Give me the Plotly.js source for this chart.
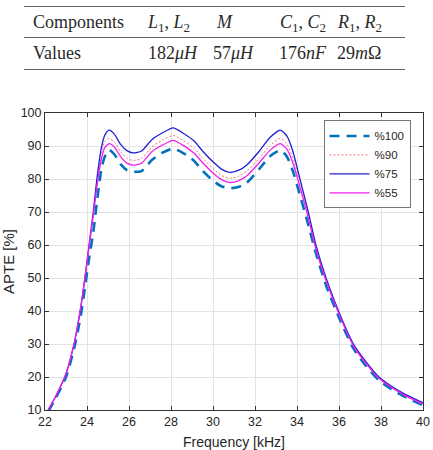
<!DOCTYPE html>
<html>
<head>
<meta charset="utf-8">
<script src="https://cdn.plot.ly/plotly-3.0.1.min.js"></script>
<style>
  html, body { margin: 0; padding: 0; background: #fff; }
  #wrap { position: relative; width: 433px; height: 450px; overflow: hidden; }
  #plot { position: absolute; left: 0; top: 0; width: 433px; height: 450px; }
  #table { position: absolute; left: 0; top: 0; width: 433px; height: 75px; z-index: 5;
           font-family: "Liberation Serif", "DejaVu Serif", serif; font-size: 18px; color: #2a2a2a; }
  .rule { position: absolute; left: 24px; width: 381px; height: 0; border-top: 1px solid #666; }
  .cell { position: absolute; line-height: 18px; white-space: nowrap; }
  .cell sub { font-size: 72%; vertical-align: -0.3em; line-height: 0; }
</style>
</head>
<body>
<div id="wrap">
  <div id="plot"></div>
  <div id="table"></div>
</div>
<script>
// ---- table text ----
var tableHeader = ['Components', '<i>L</i><sub>1</sub>, <i>L</i><sub>2</sub>', '<i>M</i>',
                   '<i>C</i><sub>1</sub>, <i>C</i><sub>2</sub>', '<i>R</i><sub>1</sub>, <i>R</i><sub>2</sub>'];
var tableValues = ['Values', '182<i>μH</i>', '57<i>μH</i>', '176<i>nF</i>', '29<i>m</i>Ω'];

// ---- chart data ----
var freq = [22.15, 22.5, 23, 23.4, 23.7, 23.9, 24.1, 24.3, 24.5, 24.7, 24.85, 25.05, 25.3, 25.6, 25.9,
            26.2, 26.6, 27.1, 27.6, 28.1, 28.6, 29.1, 29.5, 30, 30.4, 30.8, 31.2, 31.6, 32.2, 32.7,
            33.2, 33.5, 33.8, 34.1, 34.5, 34.9, 35.4, 36, 36.7, 37.3, 37.9, 38.5, 39.2, 40];

var apte100 = [9.5, 13.5, 20, 29, 38.5, 47, 56, 64, 74.5, 83.5, 86.8, 88.8, 87.5, 84.5, 82.7,
               82.2, 82.4, 85.8, 88, 89.2, 87.8, 85.5, 82.5, 79.5, 77.8, 77.2, 77.6, 78.8, 83, 86.8,
               88.7, 87, 82.5, 76, 67, 57.5, 47.5, 38, 28.5, 23.2, 19, 16.3, 13.8, 11.4];

var apte90  = [10, 14, 21, 30.5, 41, 50, 60, 70, 80.5, 88, 91.5, 92.3, 91.2, 88.3, 86.2,
               85.6, 86.3, 89.8, 91.8, 93.2, 91.6, 89.3, 86.4, 83.2, 81.1, 80.2, 80.8, 82.3, 86.3, 90.1,
               92.3, 90.8, 86.5, 79.5, 70, 59.4, 49.3, 39.3, 29.5, 24.2, 19.8, 17, 14.4, 12];

var apte75  = [10, 14, 21, 30.5, 41, 50, 60, 70, 81.5, 90, 93.3, 94.8, 93.6, 90.5, 88.6,
               87.9, 88.5, 92, 94, 95.5, 93.8, 91.5, 88.5, 85.2, 83, 82, 82.6, 84.2, 88.4, 92.5,
               94.8, 93.2, 88.5, 81, 71, 60, 49.7, 39.6, 29.8, 24.5, 20, 17.2, 14.6, 12.2];

var apte55  = [10, 14, 21, 30.5, 41, 50, 59.5, 69, 79, 86.5, 89.5, 90.7, 89.7, 86.8, 84.8,
               84.2, 84.8, 88.3, 90.3, 91.7, 90.1, 87.8, 85, 81.8, 79.8, 78.9, 79.4, 80.9, 84.9, 88.6,
               90.7, 89.2, 85, 78.5, 69.2, 58.8, 48.9, 39, 29.3, 24, 19.6, 16.8, 14.2, 11.8];

var seriesNames = ['%100', '%90', '%75', '%55'];
var xTicks = [22, 24, 26, 28, 30, 32, 34, 36, 38, 40];
var yTicks = [10, 20, 30, 40, 50, 60, 70, 80, 90, 100];

// ---- build table ----
var tbl = document.getElementById('table');
function addRule(y) { var d = document.createElement('div'); d.className = 'rule'; d.style.top = y + 'px'; tbl.appendChild(d); }
function addRow(cells, top, xs) {
  cells.forEach(function (c, i) {
    var d = document.createElement('div'); d.className = 'cell';
    d.style.left = xs[i] + 'px'; d.style.top = top + 'px'; d.innerHTML = c; tbl.appendChild(d);
  });
}
addRule(6); addRule(37); addRule(69);
addRow(tableHeader, 12.5, [33, 148, 217, 280, 338]);
addRow(tableValues, 43.5, [33, 148, 213, 279, 337]);

// ---- chart ----
var traces = [
  { x: freq, y: apte100, name: seriesNames[0], mode: 'lines',
    line: { color: '#0072BD', width: 2.6, dash: '10px,7px' } },
  { x: freq, y: apte90, name: seriesNames[1], mode: 'lines',
    line: { color: '#F07070', width: 1, dash: '2px,2px' } },
  { x: freq, y: apte75, name: seriesNames[2], mode: 'lines',
    line: { color: '#2020D0', width: 1.3 } },
  { x: freq, y: apte55, name: seriesNames[3], mode: 'lines',
    line: { color: '#F020F0', width: 1.3 } }
];
traces.forEach(function (t) { t.line.shape = 'spline'; t.line.smoothing = 0.6; });

var axisCommon = {
  showline: true, linecolor: '#333', linewidth: 1, mirror: 'allticks',
  ticks: 'inside', ticklen: 4, tickcolor: '#333', tickwidth: 1,
  showgrid: true, gridcolor: '#e3e3e3', gridwidth: 1, zeroline: false,
  tickfont: { family: 'Liberation Sans, Arial, sans-serif', size: 12.5, color: '#262626' }
};

var layout = {
  width: 433, height: 450,
  margin: { l: 45, r: 10, t: 113, b: 40 },
  paper_bgcolor: '#fff', plot_bgcolor: '#fff',
  showlegend: true,
  xaxis: Object.assign({}, axisCommon, {
    range: [22, 40], tickvals: xTicks, ticktext: xTicks.map(String),
    title: { text: 'Frequency [kHz]', standoff: 9,
             font: { family: 'Liberation Sans, Arial, sans-serif', size: 14, color: '#262626' } }
  }),
  yaxis: Object.assign({}, axisCommon, {
    range: [10, 100], tickvals: yTicks, ticktext: yTicks.map(String),
    title: { text: 'APTE [%]', standoff: 7,
             font: { family: 'Liberation Sans, Arial, sans-serif', size: 15, color: '#262626' } }
  }),
  legend: {
    x: 0.967, xanchor: 'right', y: 0.975, yanchor: 'top',
    bgcolor: '#fff', bordercolor: '#777', borderwidth: 1,
    font: { family: 'Liberation Sans, Arial, sans-serif', size: 11.5, color: '#262626' },
    itemwidth: 40, tracegroupgap: 0
  }
};

Plotly.newPlot('plot', traces, layout, { displayModeBar: false, staticPlot: true });
</script>
</body>
</html>
